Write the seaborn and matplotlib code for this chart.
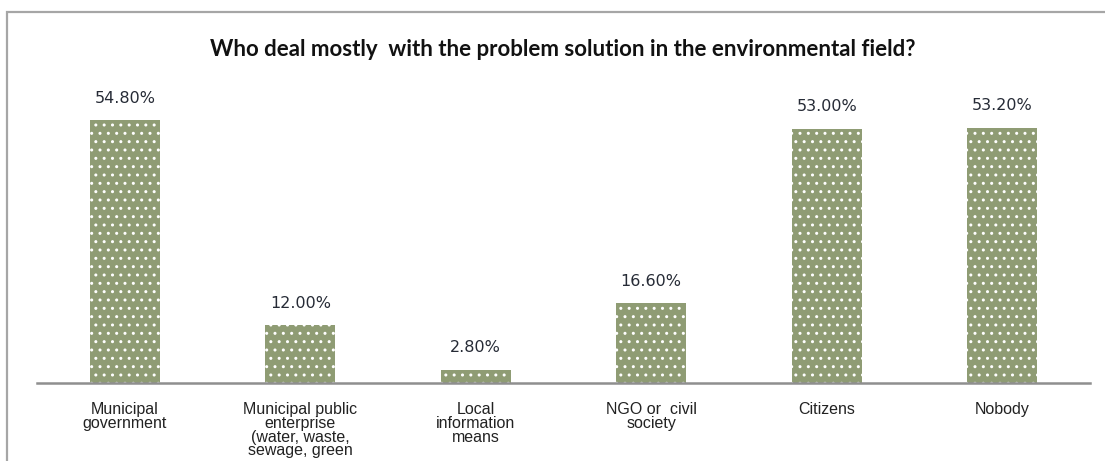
import matplotlib
matplotlib.use("Agg")
import matplotlib.pyplot as plt
import seaborn as sns
import pandas as pd
from matplotlib.patches import Rectangle

categories = [
    "Municipal\ngovernment",
    "Municipal public\nenterprise\n(water, waste,\nsewage, green",
    "Local\ninformation\nmeans",
    "NGO or  civil\nsociety",
    "Citizens",
    "Nobody",
]
shares = [54.8, 12.0, 2.8, 16.6, 53.0, 53.2]
value_labels = ["54.80%", "12.00%", "2.80%", "16.60%", "53.00%", "53.20%"]
title = "Who deal mostly  with the problem solution in the environmental field?"

df = pd.DataFrame({"category": categories, "share": shares})

sns.set_theme(style="white")
plt.rcParams["hatch.color"] = "white"
plt.rcParams["hatch.linewidth"] = 1.0

W, H = 1105, 461
fig = plt.figure(figsize=(W / 100, H / 100), dpi=100)
fig.patch.set_facecolor("white")

# outer chart frame (runs off the right and bottom edges)
fig.add_artist(Rectangle((7 / W, -0.1), 1.2, (H - 12) / H + 0.1,
                         transform=fig.transFigure, fill=False,
                         edgecolor="#a6a6a6", linewidth=1.6))

ax = fig.add_axes([37 / W, 78 / H, (1090 - 37) / W, 288 / H])
sns.barplot(data=df, x="category", y="share", width=0.4,
            color="#8f9c74", saturation=1, ax=ax)
for p in ax.patches:
    p.set_hatch("..")
    p.set_edgecolor("white")
    p.set_linewidth(0)

ax.set_xlim(-0.5, len(categories) - 0.5)
ax.set_ylim(0, 60)
ax.set_xlabel("")
ax.set_ylabel("")
ax.set_yticks([])
for s in ["top", "right", "left"]:
    ax.spines[s].set_visible(False)
ax.spines["bottom"].set_color("#8f8f8f")
ax.spines["bottom"].set_linewidth(1.8)
ax.tick_params(axis="x", length=0, pad=14)
for lab in ax.get_xticklabels():
    lab.set_fontfamily("Liberation Sans")
    lab.set_fontsize(11.5)
    lab.set_color("#222222")
    lab.set_linespacing(0.88)
    lab.set_verticalalignment("top")

for i, (v, txt) in enumerate(zip(shares, value_labels)):
    ax.annotate(txt, (i, v), xytext=(0, 12.5), textcoords="offset points",
                ha="center", va="baseline", fontsize=11.5,
                family="DejaVu Sans", color="#262b36")

fig.text(563 / W, 1 - 50 / H, title, ha="center", va="center",
         fontsize=16, fontweight="bold", family="Lato", color="#111111")

fig.savefig("out.png", dpi=100)
